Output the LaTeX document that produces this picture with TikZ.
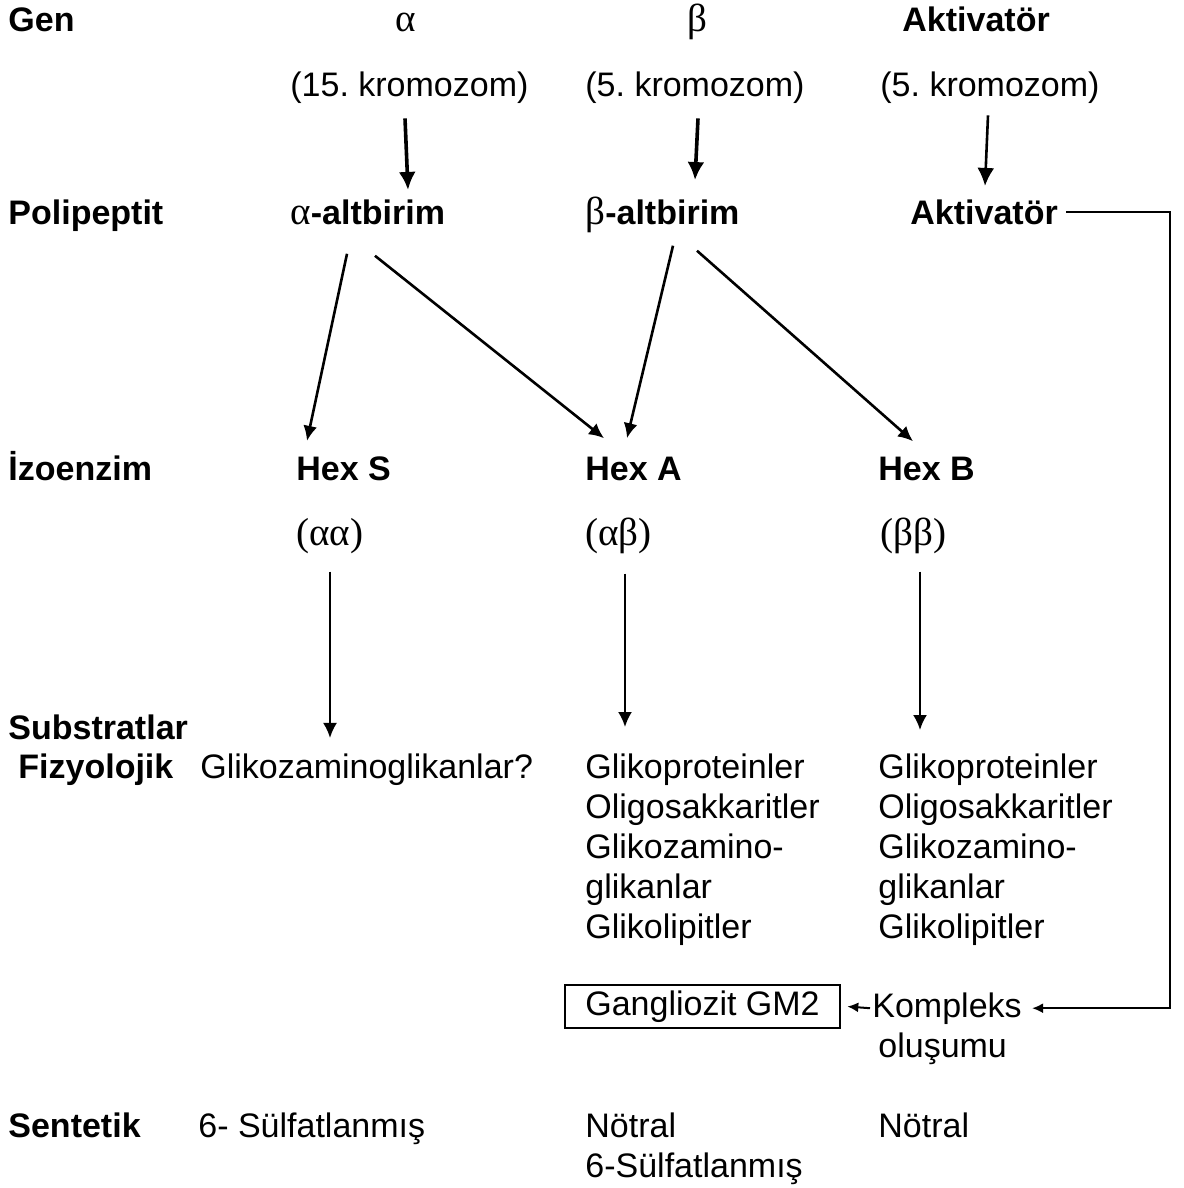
\documentclass[tikz,border=0pt]{standalone}
\usepackage{fontspec}
\setmainfont{Liberation Sans}
\newfontfamily\grk[Scale=1.15]{Liberation Serif}
\usepackage{tikz}
\usetikzlibrary{arrows.meta,positioning,calc}
\newcommand{\dfont}{\fontsize{17}{20}\selectfont}
\frenchspacing
\tikzset{
  rowhead/.style={anchor=base west,inner sep=0pt,font=\dfont\bfseries},
  boldtxt/.style={anchor=base west,inner sep=0pt,font=\dfont\bfseries},
  plaintxt/.style={anchor=base west,inner sep=0pt,font=\dfont},
  listtxt/.style={anchor=north west,inner sep=0pt,font=\dfont,align=left},
  genearrow/.style={-{Latex[length=9pt,width=8.5pt]},line width=1.8pt},
  diagarrow/.style={-{Latex[length=7.5pt,width=7pt]},line width=1.3pt},
  subarrow/.style={-{Latex[length=7.5pt,width=7pt]},line width=1.1pt},
  linkarrow/.style={-{Latex[length=5.5pt,width=5pt]},line width=1pt}
}

\begin{document}
\begin{tikzpicture}[x=0.5pt,y=-0.5pt]
  \useasboundingbox (0,0) rectangle (1183,1188);
  % row heads
  \node[rowhead] (gen) at (8,32) {Gen};
  \node[rowhead] (poli) at (8,224) {Polipeptit};
  \node[rowhead] (izo) at (8,480) {İzoenzim};
  \node[rowhead] (subs) at (8,739) {Substratlar};
  \node[rowhead] (fizy) at (18,778) {Fizyolojik};
  \node[rowhead] (sent) at (8,1137) {Sentetik};
  % genes
  \node[anchor=base,inner sep=0pt,font=\dfont\grk] (galpha) at (406,32) {α};
  \node[anchor=base,inner sep=0pt,font=\dfont\grk] (gbeta) at (697,32) {β};
  \node[boldtxt] (gakt) at (902,32) {Aktivatör};
  \node[plaintxt] (kr15) at (290,97) {(15. kromozom)};
  \node[plaintxt] (kr5b) at (585,97) {(5. kromozom)};
  \node[plaintxt] (kr5a) at (880,97) {(5. kromozom)};
  % polypeptides
  \node[boldtxt] (altA) at (290,224) {{\grk\mdseries α}-altbirim};
  \node[boldtxt] (altB) at (585,224) {{\grk\mdseries β}-altbirim};
  \node[boldtxt] (aktP) at (910,224) {Aktivatör};
  % isoenzymes
  \node[boldtxt] (hexS) at (296,480) {Hex S};
  \node[boldtxt] (hexA) at (585,480) {Hex A};
  \node[boldtxt] (hexB) at (878,480) {Hex B};
  \node[plaintxt,font=\dfont\grk] (aa) at (296,545) {(αα)};
  \node[plaintxt,font=\dfont\grk] (ab) at (585,545) {(αβ)};
  \node[plaintxt,font=\dfont\grk] (bb) at (880,545) {(ββ)};
  % substrates
  \node[plaintxt] (glyc) at (200,778) {Glikozaminoglikanlar?};
  \node[listtxt] (listA) at (585,753) {Glikoproteinler\\Oligosakkaritler\\Glikozamino-\\glikanlar\\Glikolipitler};
  \node[listtxt] (listB) at (878,753) {Glikoproteinler\\Oligosakkaritler\\Glikozamino-\\glikanlar\\Glikolipitler};
  \node[draw,line width=1.3pt,inner sep=0pt,minimum width=137.5pt,minimum height=21.5pt,font=\dfont] (gm2) at (702.5,1006.5) {\raisebox{-1pt}{Gangliozit GM2}};
  \node[plaintxt] (komp) at (872,1017) {Kompleks};
  \node[plaintxt] (olus) at (878,1057) {oluşumu};
  % synthetic
  \node[plaintxt] (sulfS) at (198,1137) {6- Sülfatlanmış};
  \node[plaintxt] (notrA) at (585,1137) {Nötral};
  \node[plaintxt] (sulfA) at (585,1177) {6-Sülfatlanmış};
  \node[plaintxt] (notrB) at (878,1137) {Nötral};
  \coordinate (rt) at (1170,213);
  % arrows
  \draw[genearrow] ($(kr15.south west)+(115,14)$) -- ($(altA.north west)+(118,-9)$);
  \draw[genearrow] ($(kr5b.south west)+(113,14)$) -- ($(altB.north west)+(110,-16)$);
  \draw[genearrow,line width=1.3pt] ($(kr5a.south west)+(108,11)$) -- ($(aktP.north west)+(75,-13)$);
  \draw[diagarrow] ($(altA.south west)+(57,29)$) -- ($(hexS.north west)+(11,-15)$);
  \draw[diagarrow] ($(altA.south west)+(85,31)$) -- ($(hexA.north west)+(19,-18)$);
  \draw[diagarrow] ($(altB.south west)+(88,13)$) -- ($(hexA.north west)+(42,-18)$);
  \draw[diagarrow] ($(altB.south west)+(112,18)$) -- ($(hexB.north west)+(35,-15)$);
  \draw[subarrow] ($(aa.south west)+(34,18)$) -- ($(glyc.north west)+(130,-15)$);
  \draw[subarrow] ($(ab.south west)+(40,20)$) -- ($(listA.north west)+(40,-26)$);
  \draw[subarrow] ($(bb.south west)+(40,18)$) -- ($(listB.north west)+(42,-23)$);
  \draw[line width=1pt] ([xshift=4pt]aktP.east) -| (rt);
  \draw[linkarrow] (rt) |- ([xshift=5pt]komp.east);
  \draw[linkarrow] ([xshift=-1pt]komp.west) -- ([xshift=3pt]gm2.east);
\end{tikzpicture}
\end{document}
